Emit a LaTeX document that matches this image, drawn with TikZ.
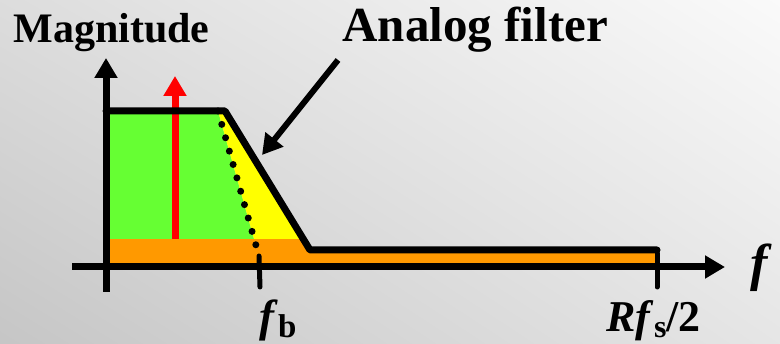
\documentclass[tikz,border=0pt]{standalone}
\usepackage{fontspec}
\setmainfont{Liberation Serif}
\usetikzlibrary{arrows.meta, shadings}
\definecolor{passgreen}{HTML}{66FF33}
\definecolor{edgeyellow}{HTML}{FFFF00}
\definecolor{floororange}{HTML}{FF9900}
\definecolor{tonered}{HTML}{FF0000}

\begin{document}
\begin{tikzpicture}[x=1pt, y=-1pt, >={Triangle[length=20pt, width=22pt]}, line width=7pt,
    lbl/.style={inner sep=0pt, anchor=base west},
    tick/.style={line width=5pt, line cap=round}]
    % Background
    \shade[lower left=gray!45, upper left=gray!27, upper right=gray!4, lower right=gray!20] (0,0) rectangle (780,344);
    \useasboundingbox (0,0) rectangle (780,344);

    % Points
    \coordinate (corner) at (106,111);
    \coordinate (knee) at (225,111);
    \coordinate (stop) at (310,250);
    \coordinate (stopend) at (657,250);
    \coordinate (dtop) at (218,111);
    \coordinate (dbot) at (259,256);

    % Areas
    \fill[floororange] (110,264) -- (110,239) -- (303,239) -- (stop) -- (stopend) -- (657,264) -- cycle;
    \fill[passgreen] (110,239) -- (110,111) -- (dtop) -- (254,239) -- cycle;
    \fill[edgeyellow] (dtop) -- (knee) -- (303,239) -- (254,239) -- cycle;

    % Tone
    \draw[->, tonered] (175,239) -- (175,76);

    % Axes
    \draw[->] (106,292) -- (106,58);
    \draw[->] (72,267) -- (725,267);

    % Filter response
    \draw[line cap=round, line join=round] (corner) -- (knee) -- (stop) -- (stopend);
    \draw[line cap=round, dash pattern=on 0pt off 13.9pt] (dtop) -- (dbot);
    \draw[tick] (dbot) -- (260,287);
    \draw[tick] (657,253) -- (657,287);

    % Labels
    \node[lbl, font=\bfseries\fontsize{42}{42}\selectfont] (mag) at (10,43) {Magnitude};
    \node[lbl, font=\bfseries\fontsize{49}{49}\selectfont] (title) at (339,42) {Analog filter};
    \node[lbl, font=\bfseries\itshape\fontsize{52}{52}\selectfont] (faxis) at (747,281) {f};
    \node[lbl, font=\bfseries\fontsize{45}{45}\selectfont] (fb) at (256,332) {\textit{f}\raisebox{-6pt}{\fontsize{33}{33}\selectfont b}};
    \node[lbl, font=\bfseries\fontsize{44}{44}\selectfont] (fs) at (603,332) {\textit{Rf}\raisebox{-6pt}{\fontsize{32}{32}\selectfont s}/2};

    % Pointer
    \coordinate (tail) at (338,60);
    \coordinate (tip) at (262,155);
    \draw[->, line width=6pt] (tail) -- (tip);
\end{tikzpicture}
\end{document}
